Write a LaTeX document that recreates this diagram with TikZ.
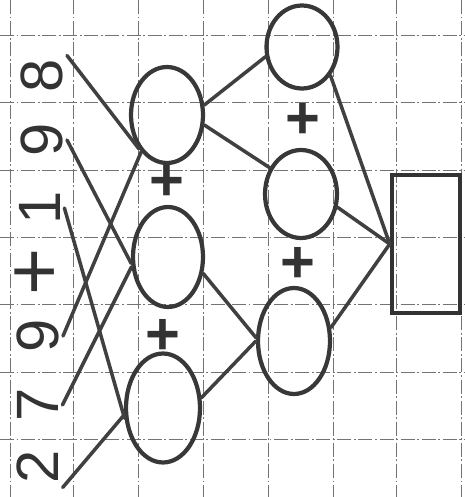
\documentclass[tikz,border=0pt]{standalone}
\usepackage{fontspec}
\setmainfont{Liberation Sans}
\usepackage{tikz}
\usetikzlibrary{shapes.geometric}

\begin{document}
\begin{tikzpicture}[x=0.02cm, y=-0.02cm,
    gridline/.style={black!55, line width=0.5pt, dash pattern=on 8pt off 1.5pt on 1pt off 1.5pt},
    blob/.style={ellipse, draw=black!78, line width=2.4pt, inner sep=0pt},
    digit/.style={rotate=90, inner sep=2pt, font=\fontsize{34}{34}\selectfont, text=black!80},
    plus/.style={inner sep=0pt, font=\fontsize{34}{34}\selectfont\bfseries, text=black!80},
    wire/.style={draw=black!75, line width=2pt, line cap=round}]
    \useasboundingbox (0,0) rectangle (465,497);

    % squared paper
    \draw[gridline] (10,0) -- (10,497) (73,0) -- (73,497) (138,0) -- (138,497) (203,0) -- (203,497)
                    (268,0) -- (268,497) (333,0) -- (333,497) (396,0) -- (396,497) (461,0) -- (461,497);
    \draw[gridline] (0,35) -- (465,35) (0,102) -- (465,102) (0,170) -- (465,170) (0,237) -- (465,237)
                    (0,304) -- (465,304) (0,372) -- (465,372) (0,439) -- (465,439);

    % the sum, written upwards
    \node[digit] (p2) at (38,467) {2};
    \node[digit] (p7) at (38,405) {7};
    \node[digit] (p9) at (38,336) {9};
    \node[digit, font=\fontsize{46}{46}\selectfont] (plusop) at (38,272) {+};
    \node[digit] (q1) at (40,208) {1};
    \node[digit] (q9) at (42,140) {9};
    \node[digit] (q8) at (42,76) {8};

    \node[blob, minimum width=1.44cm, minimum height=1.92cm] (s1) at (167,115) {};
    \node[blob, minimum width=1.40cm, minimum height=2.00cm] (s2) at (168,257) {};
    \node[blob, minimum width=1.48cm, minimum height=2.18cm] (s3) at (163,408) {};

    \node[blob, minimum width=1.42cm, minimum height=1.66cm] (c1) at (302,47) {};
    \node[blob, minimum width=1.44cm, minimum height=1.76cm] (c2) at (301,194) {};
    \node[blob, minimum width=1.44cm, minimum height=2.12cm] (c3) at (294,341) {};

    \node[draw=black!80, line width=2.6pt, minimum width=1.36cm, minimum height=2.76cm, inner sep=0pt] (res) at (426,244) {};

    \node[plus] (ps1) at (167,183) {+};
    \node[plus] (ps2) at (163,337) {+};
    \node[plus] (pc1) at (303,121) {+};
    \node[plus] (pc2) at (298,265) {+};

    \draw[wire] (q8.south east) -- (s1.230);
    \draw[wire] (p9.south) -- (s1.235);
    \draw[wire] (q9.south) -- (s2.190);
    \draw[wire] (p7.south) -- (s2.195);
    \draw[wire] (q1.south) -- (s3.195);
    \draw[wire] (p2.south west) -- (s3.190);

    \draw[wire] (s1.15) -- (c1.195);
    \draw[wire] (s1.-15) -- (c2.140);
    \draw[wire] (s2.-25) -- (c3.175);
    \draw[wire] (s3.15) -- (c3.180);

    \draw[wire] (c1.-45) -- (res.west);
    \draw[wire] (c2.-20) -- (res.west);
    \draw[wire] (c3.20) -- (res.west);
\end{tikzpicture}
\end{document}
